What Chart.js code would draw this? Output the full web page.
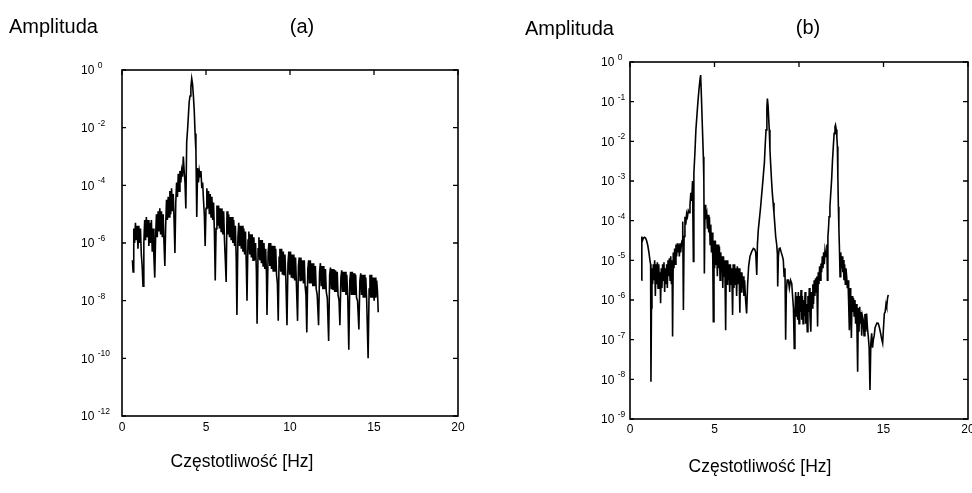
<!DOCTYPE html>
<html>
<head>
<meta charset="utf-8">
<script src="https://cdn.jsdelivr.net/npm/chart.js@4.4.1/dist/chart.umd.min.js"></script>
<style>
html, body { margin: 0; padding: 0; background: #fff; }
#wrap { position: relative; width: 972px; height: 493px; overflow: hidden; font-family: "Liberation Sans", Arial, sans-serif; color: #000; }
.box { position: absolute; top: 0; width: 486px; height: 493px; }
.lbl { position: absolute; white-space: nowrap; line-height: 1; }
.mid { transform: translateX(-50%); }
</style>
</head>
<body>
<div id="wrap">
  <div class="box" style="left:0"><canvas id="chartA" width="486" height="493"></canvas></div>
  <div class="box" style="left:486px"><canvas id="chartB" width="486" height="493"></canvas></div>
  <div class="lbl" style="left:9px;top:16px;font-size:20px">Amplituda</div>
  <div class="lbl mid" style="left:302px;top:16px;font-size:20px">(a)</div>
  <div class="lbl" style="left:525px;top:18px;font-size:20px">Amplituda</div>
  <div class="lbl mid" style="left:808px;top:17px;font-size:20px">(b)</div>
  <div class="lbl mid" style="left:242px;top:453px;font-size:17.5px">Częstotliwość [Hz]</div>
  <div class="lbl mid" style="left:760px;top:458px;font-size:17.5px">Częstotliwość [Hz]</div>
</div>
<script>
// x ticks (Hz) shared by both plots
const freqTicks = [0, 5, 10, 15, 20];
// decade exponents shown on the y axes
const decadesA = [0, -2, -4, -6, -8, -10, -12];
const decadesB = [0, -1, -2, -3, -4, -5, -6, -7, -8, -9];

const freqA = [
  0.62, 0.66, 0.70, 0.75, 0.80, 0.85, 0.90, 0.95, 1.00, 1.05, 1.10, 1.15, 1.20, 1.25,
  1.30, 1.35, 1.40, 1.45, 1.50, 1.55, 1.60, 1.65, 1.70, 1.75, 1.80, 1.85, 1.90, 1.95,
  2.00, 2.05, 2.10, 2.15, 2.20, 2.25, 2.30, 2.35, 2.40, 2.45, 2.50, 2.55,
  2.60, 2.65, 2.70, 2.75, 2.80, 2.85, 2.90, 2.95, 3.00, 3.05, 3.10, 3.15,
  3.20, 3.25, 3.30, 3.35, 3.40, 3.45, 3.50, 3.55, 3.60, 3.65, 3.70, 3.75, 3.80,
  3.85, 3.90, 3.95, 4.00, 4.05, 4.10, 4.15, 4.20, 4.25, 4.30, 4.35, 4.40, 4.45,
  4.50, 4.55, 4.60, 4.65, 4.70, 4.75, 4.80, 4.85, 4.90, 4.95,
  5.00, 5.05, 5.10, 5.15, 5.20, 5.25, 5.30, 5.35, 5.40, 5.45, 5.50, 5.55,
  5.60, 5.65, 5.70, 5.75, 5.80, 5.85, 5.90, 5.95, 6.00, 6.05, 6.10, 6.15, 6.20,
  6.25, 6.30, 6.35, 6.40, 6.45, 6.50, 6.55, 6.60, 6.65, 6.70, 6.75, 6.80, 6.84,
  6.90, 6.95, 7.00, 7.05, 7.10, 7.15, 7.20, 7.25, 7.30, 7.35, 7.40, 7.44,
  7.50, 7.55, 7.60, 7.65, 7.70, 7.75, 7.80, 7.85, 7.90, 7.95, 8.00, 8.04,
  8.10, 8.15, 8.20, 8.25, 8.30, 8.35, 8.40, 8.45, 8.50, 8.55, 8.60, 8.63,
  8.70, 8.75, 8.80, 8.85, 8.90, 8.95, 9.00, 9.05, 9.10, 9.15, 9.20, 9.25, 9.30,
  9.35, 9.40, 9.45, 9.50, 9.55, 9.60, 9.65, 9.70, 9.75, 9.82,
  9.88, 9.93, 9.98, 10.03, 10.08, 10.13, 10.18, 10.23, 10.28, 10.33, 10.38, 10.45,
  10.50, 10.55, 10.60, 10.65, 10.70, 10.75, 10.80, 10.85, 10.90, 10.95, 11.00,
  11.06, 11.11, 11.16, 11.21, 11.26, 11.31, 11.36, 11.41, 11.46, 11.51, 11.56, 11.62, 11.70,
  11.76, 11.81, 11.86, 11.91, 11.96, 12.01, 12.06, 12.11, 12.16, 12.22, 12.30,
  12.36, 12.41, 12.46, 12.51, 12.56, 12.61, 12.66, 12.71, 12.76, 12.81, 12.86, 12.92, 12.97,
  13.03, 13.08, 13.13, 13.18, 13.23, 13.28, 13.33, 13.38, 13.44, 13.50,
  13.56, 13.61, 13.66, 13.71, 13.76, 13.81, 13.86, 13.91, 13.96, 14.02, 14.10,
  14.16, 14.21, 14.26, 14.31, 14.36, 14.41, 14.46, 14.51, 14.56, 14.65,
  14.71, 14.76, 14.81, 14.86, 14.91, 14.96, 15.01, 15.06, 15.11, 15.16, 15.21, 15.25
];
const logAmpA = [
  -6.6, -7.0, -5.5, -6.0, -5.3, -5.9, -5.4, -6.2, -5.4, -6.0, -5.5, -6.4, -6.8, -7.5,
  -6.0, -5.2, -5.9, -5.1, -5.8, -5.2, -6.1, -5.3, -6.0, -5.2, -6.3, -5.5, -6.5, -7.2,
  -5.8, -5.0, -5.8, -4.9, -5.6, -4.8, -5.7, -4.9, -5.8, -5.0, -6.0, -6.8,
  -5.4, -4.5, -5.2, -4.4, -5.1, -4.2, -5.0, -4.1, -4.9, -4.3, -5.2, -6.35,
  -4.6, -3.9, -4.4, -3.6, -4.2, -3.5, -3.9, -3.5, -3.7, -3.0, -3.5, -3.9, -4.8,
  -2.5, -2.1, -1.6, -1.1, -0.9, -0.6, -0.3, -0.5, -0.9, -1.4, -2.2, -2.8, -5.1,
  -3.4, -3.9, -3.5, -3.7, -3.5, -4.1, -3.9, -4.5, -5.0, -6.1,
  -4.8, -4.1, -4.8, -4.2, -5.0, -4.3, -5.1, -4.4, -5.2, -4.6, -5.6, -7.3,
  -5.5, -4.7, -5.4, -4.7, -5.5, -4.8, -5.6, -4.8, -5.7, -4.9, -5.9, -6.6, -7.35,
  -4.9, -5.7, -5.0, -5.8, -5.1, -5.9, -5.1, -6.0, -5.2, -6.1, -5.4, -6.6, -8.5,
  -5.8, -5.3, -6.1, -5.4, -6.2, -5.4, -6.3, -5.5, -6.4, -5.6, -6.8, -8.0,
  -5.9, -5.6, -6.4, -5.7, -6.5, -5.7, -6.6, -5.8, -6.6, -6.0, -7.0, -8.8,
  -6.2, -5.8, -6.6, -5.9, -6.7, -5.9, -6.8, -6.0, -6.9, -6.2, -7.1, -8.5,
  -6.3, -6.0, -6.8, -6.0, -6.9, -6.1, -7.0, -6.1, -7.0, -6.2, -7.1, -7.4, -8.7,
  -6.5, -6.2, -7.0, -6.2, -7.1, -6.3, -7.1, -6.4, -7.2, -8.85,
  -6.7, -6.3, -7.1, -6.3, -7.2, -6.4, -7.2, -6.4, -7.3, -6.5, -7.4, -8.7,
  -6.8, -6.5, -7.3, -6.5, -7.3, -6.6, -7.4, -6.6, -7.5, -7.8, -9.1,
  -6.9, -6.6, -7.4, -6.6, -7.4, -6.7, -7.5, -6.7, -7.5, -6.8, -7.6, -7.8, -8.85,
  -7.0, -6.7, -7.5, -6.8, -7.6, -6.8, -7.6, -6.9, -7.7, -7.9, -9.4,
  -7.1, -6.85, -7.6, -6.9, -7.6, -6.9, -7.7, -6.95, -7.7, -7.0, -7.8, -8.0, -8.85,
  -7.2, -6.95, -7.7, -7.0, -7.7, -7.0, -7.8, -7.1, -7.9, -9.7,
  -7.3, -7.0, -7.8, -7.0, -7.8, -7.05, -7.8, -7.1, -7.9, -8.0, -9.0,
  -7.3, -7.05, -7.8, -7.1, -7.9, -7.1, -7.9, -7.2, -7.9, -10.0,
  -7.6, -7.1, -7.9, -7.1, -7.9, -7.2, -8.0, -7.2, -7.9, -7.3, -7.7, -8.4
];

// (b) frequency [Hz] and log10(amplitude)
const freqB = [
  0.68, 0.70, 0.74, 0.78, 0.85, 0.92, 0.98, 1.05, 1.12, 1.18, 1.22, 1.24,
  1.27, 1.30, 1.34, 1.38, 1.42, 1.46, 1.50, 1.54, 1.58, 1.62, 1.66, 1.70,
  1.74, 1.78, 1.81, 1.85, 1.89, 1.93, 1.97, 2.01, 2.05, 2.09, 2.13, 2.17,
  2.21, 2.25, 2.29, 2.33, 2.37, 2.41, 2.45, 2.49, 2.52, 2.56, 2.60, 2.64,
  2.68, 2.72, 2.76, 2.80, 2.84, 2.88, 2.92, 2.96, 3.00, 3.04, 3.08, 3.12,
  3.16, 3.20, 3.25, 3.30, 3.35, 3.40, 3.45, 3.50, 3.55, 3.60, 3.65, 3.70,
  3.75, 3.78, 3.84, 3.90, 3.96, 4.02, 4.08, 4.14, 4.18, 4.22, 4.28, 4.34,
  4.37, 4.40, 4.44, 4.48, 4.54, 4.58, 4.62, 4.66, 4.70, 4.74, 4.78, 4.82,
  4.86, 4.90, 4.93, 4.97, 5.01, 5.05, 5.09, 5.13, 5.17, 5.21, 5.25, 5.29,
  5.33, 5.37, 5.41, 5.45, 5.49, 5.53, 5.57, 5.61, 5.66, 5.70, 5.74, 5.78,
  5.82, 5.86, 5.90, 5.94, 5.98, 6.02, 6.07, 6.11, 6.15, 6.19, 6.23, 6.27,
  6.31, 6.35, 6.40, 6.45, 6.50, 6.54, 6.58, 6.62, 6.66, 6.70, 6.74, 6.78,
  6.84, 6.90, 6.96, 7.02, 7.10, 7.20, 7.30, 7.38, 7.44, 7.50, 7.54, 7.59,
  7.66, 7.73, 7.79, 7.85, 7.90, 7.95, 8.00, 8.05, 8.10, 8.13, 8.17, 8.24,
  8.28, 8.32, 8.37, 8.42, 8.47, 8.52, 8.57, 8.62, 8.68, 8.72, 8.74, 8.78,
  8.83, 8.88, 8.95, 9.02, 9.07, 9.12, 9.17, 9.21, 9.25, 9.30, 9.37, 9.43,
  9.50, 9.57, 9.62, 9.67, 9.72, 9.76, 9.80, 9.84, 9.88, 9.92, 9.96, 10.00,
  10.04, 10.08, 10.12, 10.16, 10.20, 10.24, 10.28, 10.32, 10.36, 10.40, 10.44, 10.49,
  10.53, 10.57, 10.61, 10.65, 10.70, 10.74, 10.78, 10.82, 10.86, 10.90, 10.94, 10.98,
  11.02, 11.05, 11.10, 11.14, 11.18, 11.22, 11.26, 11.30, 11.34, 11.38, 11.42, 11.46,
  11.50, 11.54, 11.60, 11.65, 11.68, 11.71, 11.74, 11.78, 11.83, 11.88, 11.93, 11.98,
  12.03, 12.08, 12.13, 12.16, 12.20, 12.24, 12.27, 12.30, 12.33, 12.36, 12.39, 12.43,
  12.47, 12.51, 12.55, 12.59, 12.62, 12.66, 12.70, 12.74, 12.78, 12.82, 12.86, 12.90,
  12.94, 12.98, 13.02, 13.06, 13.10, 13.14, 13.18, 13.22, 13.26, 13.31, 13.35, 13.39,
  13.43, 13.47, 13.51, 13.55, 13.59, 13.63, 13.67, 13.71, 13.75, 13.80, 13.85, 13.90,
  13.95, 14.00, 14.05, 14.10, 14.15, 14.20, 14.25, 14.30, 14.35, 14.40, 14.45, 14.50,
  14.56, 14.62, 14.69, 14.76, 14.83, 14.90, 14.95, 15.00, 15.05, 15.10, 15.15, 15.19, 15.24, 15.28
];
const logAmpB = [
  -5.5, -4.4, -4.5, -4.45, -4.42, -4.44, -4.5, -4.62, -4.8, -5.0, -5.1, -8.06,
  -6.2, -5.2, -5.6, -5.1, -5.5, -5.0, -5.9, -5.1, -5.6, -5.05, -5.7, -5.1,
  -5.6, -5.3, -6.08, -5.2, -5.7, -5.1, -5.5, -5.05, -5.8, -5.2, -5.6, -5.1,
  -5.7, -5.0, -5.4, -4.95, -5.5, -4.9, -5.6, -5.0, -6.92, -4.8, -5.2, -4.7,
  -5.1, -4.6, -4.9, -4.57, -4.8, -4.6, -4.9, -4.57, -4.8, -4.6, -4.5, -4.02,
  -6.25, -4.4, -3.9, -4.1, -3.82, -3.9, -3.75, -3.8, -3.6, -3.3, -3.5, -3.0,
  -5.03, -2.8, -2.3, -1.7, -1.35, -1.0, -0.7, -0.45, -0.33, -0.8, -1.6, -2.39,
  -3.0, -5.33, -3.6, -3.9, -3.8, -4.2, -3.85, -4.3, -3.9, -4.6, -4.1, -4.8,
  -4.3, -5.0, -6.55, -4.5, -5.2, -4.5, -5.1, -4.6, -5.4, -4.6, -5.2, -4.65,
  -5.5, -4.8, -5.3, -4.9, -5.7, -4.9, -5.4, -5.0, -6.76, -5.0, -5.6, -5.0,
  -5.5, -5.1, -5.8, -5.1, -5.6, -5.2, -6.38, -5.1, -5.7, -5.1, -5.6, -5.2,
  -5.9, -5.15, -5.6, -5.2, -6.32, -5.3, -5.8, -5.3, -5.7, -5.4, -5.9, -5.5,
  -6.0, -6.34, -5.6, -5.15, -4.9, -4.78, -4.7, -4.72, -4.8, -5.37, -4.6, -4.24,
  -3.95, -3.65, -3.35, -3.06, -2.8, -2.55, -2.1, -1.71, -1.15, -0.92, -1.1, -1.71,
  -2.2, -2.55, -2.95, -3.3, -3.55, -3.81, -4.1, -4.4, -4.6, -4.83, -5.66, -4.9,
  -4.7, -4.69, -4.8, -4.9, -4.99, -5.4, -5.2, -7.0, -5.8, -5.5, -5.5, -5.7,
  -5.5, -5.58, -5.9, -6.2, -7.22, -6.4, -5.8, -6.4, -5.9, -6.5, -5.8, -6.6,
  -5.9, -6.3, -5.75, -6.5, -5.9, -6.6, -6.0, -6.4, -5.8, -6.6, -6.1, -6.8,
  -5.9, -6.3, -5.7, -6.4, -6.8, -5.8, -6.2, -5.6, -6.1, -5.5, -5.9, -5.45,
  -5.8, -5.41, -6.67, -5.3, -5.6, -5.15, -5.5, -5.08, -5.3, -4.9, -5.2, -4.8,
  -5.1, -4.74, -4.9, -4.6, -5.5, -4.4, -4.24, -3.9, -3.65, -3.3, -2.97, -2.5,
  -2.13, -1.8, -1.63, -1.59, -1.7, -1.9, -2.13, -2.9, -3.65, -4.2, -4.65, -5.41,
  -4.8, -5.2, -4.9, -5.3, -4.99, -5.5, -5.1, -5.6, -5.2, -5.41, -5.7, -5.5,
  -6.1, -6.76, -5.7, -6.2, -6.96, -5.9, -6.3, -5.95, -6.4, -6.0, -6.6, -6.1,
  -6.7, -7.81, -6.2, -6.8, -6.17, -6.6, -6.3, -6.9, -6.4, -6.5, -6.9, -6.35,
  -6.8, -6.34, -6.7, -6.92, -7.2, -8.27, -7.1, -6.84, -7.2, -7.0, -6.9, -6.7,
  -6.63, -6.58, -6.59, -6.7, -6.84, -7.0, -7.09, -6.7, -6.34, -6.3, -6.1, -6.17, -5.95, -5.87
];

const FONT = '"Liberation Sans", Arial, sans-serif';

// box with inward ticks, plus "10^n" tick labels
const framePlugin = {
  id: 'frame',
  afterDraw(chart, args, opts) {
    const ctx = chart.ctx;
    const a = chart.chartArea;
    const x = chart.scales.x;
    const y = chart.scales.y;
    ctx.save();
    ctx.strokeStyle = '#000';
    ctx.fillStyle = '#000';
    ctx.lineWidth = 1.6;
    ctx.strokeRect(a.left, a.top, a.right - a.left, a.bottom - a.top);

    ctx.lineWidth = 1.3;
    ctx.font = '12px ' + FONT;
    ctx.textAlign = 'center';
    ctx.textBaseline = 'middle';
    x.ticks.forEach(function(t) {
      const px = x.getPixelForValue(t.value);
      ctx.beginPath();
      ctx.moveTo(px, a.top); ctx.lineTo(px, a.top + 5);
      ctx.stroke();
      ctx.fillText(String(t.value), px, a.bottom + opts.xLabelGap);
    });

    y.ticks.forEach(function(t) {
      const py = y.getPixelForValue(t.value);
      ctx.beginPath();
      ctx.moveTo(a.left, py); ctx.lineTo(a.left + 4, py);
      ctx.moveTo(a.right, py); ctx.lineTo(a.right - 5, py);
      ctx.stroke();
      const exp = Math.round(Math.log10(t.value));
      ctx.textAlign = 'left';
      ctx.font = '12px ' + FONT;
      ctx.textBaseline = 'middle';
      ctx.fillText('10', opts.yLabelX, py + 1);
      const w = ctx.measureText('10 ').width;
      ctx.font = '8.5px ' + FONT;
      ctx.textBaseline = 'alphabetic';
      ctx.fillText(String(exp), opts.yLabelX + w, py - 2);
    });
    ctx.restore();
  }
};

function makeChart(id, freq, logAmp, decades, pad, yLabelX, xLabelGap) {
  const points = freq.map(function(f, i) { return { x: f, y: Math.pow(10, logAmp[i]) }; });
  return new Chart(document.getElementById(id), {
    type: 'line',
    data: {
      datasets: [{
        data: points,
        borderColor: '#000',
        borderWidth: 1.6,
        pointRadius: 0,
        tension: 0,
        fill: false
      }]
    },
    options: {
      responsive: false,
      animation: false,
      events: [],
      layout: { padding: pad },
      plugins: {
        legend: { display: false },
        tooltip: { enabled: false },
        frame: { yLabelX: yLabelX, xLabelGap: xLabelGap }
      },
      scales: {
        x: {
          type: 'linear',
          display: false,
          min: 0,
          max: 20,
          afterBuildTicks: function(scale) {
            scale.ticks = freqTicks.map(function(v) { return { value: v }; });
          }
        },
        y: {
          type: 'logarithmic',
          display: false,
          min: Math.pow(10, decades[decades.length - 1]),
          max: Math.pow(10, decades[0]),
          afterBuildTicks: function(scale) {
            scale.ticks = decades.map(function(e) { return { value: Math.pow(10, e) }; });
          }
        }
      }
    },
    plugins: [framePlugin]
  });
}

makeChart('chartA', freqA, logAmpA, decadesA, { left: 122, right: 28, top: 70, bottom: 77 }, 81, 12);
makeChart('chartB', freqB, logAmpB, decadesB, { left: 144, right: 4, top: 62, bottom: 74 }, 115, 11);
</script>
</body>
</html>
